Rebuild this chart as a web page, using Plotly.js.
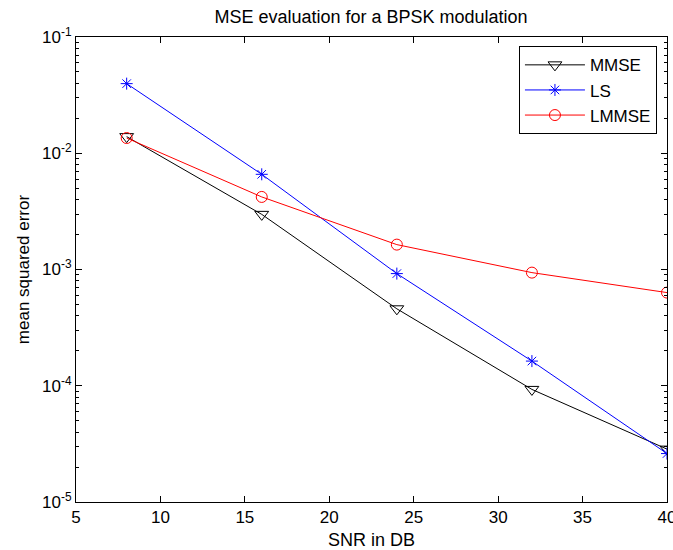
<!DOCTYPE html>
<html>
<head>
<meta charset="utf-8">
<script src="https://cdn.plot.ly/plotly-3.0.1.min.js"></script>
<style>html,body{margin:0;padding:0;background:#fff;}#chart{width:673px;height:550px;}</style>
</head>
<body>
<div id="chart"></div>
<script>
const snr = [8, 16, 24, 32, 40];
const mmse = [0.0139, 0.00298, 4.59e-4, 9.3e-5, 2.85e-5];
const ls = [0.0397, 0.00659, 9.22e-4, 1.63e-4, 2.61e-5];
const lmmse = [0.01352, 0.00421, 0.001637, 9.4e-4, 6.33e-4];
const xTicks = [5, 10, 15, 20, 25, 30, 35, 40];
const yTicks = [1e-5, 1e-4, 1e-3, 1e-2, 1e-1];
const yMinor = [];
[1e-5, 1e-4, 1e-3, 1e-2].forEach(d => { for (let k = 2; k <= 9; k++) yMinor.push(k * d); });

const font = "Liberation Sans, Arial, Helvetica, sans-serif";
const traces = [
  {x: snr, y: mmse, name: 'MMSE', mode: 'lines+markers', type: 'scatter',
   line: {color: '#000000', width: 1},
   marker: {symbol: 'triangle-down-open', size: 12, color: '#000000', line: {width: 1}}},
  {x: snr, y: ls, name: 'LS', mode: 'lines+markers', type: 'scatter',
   line: {color: '#0000ff', width: 1},
   marker: {symbol: 'asterisk-open', size: 10, color: '#0000ff', line: {width: 1, color: '#0000ff'}}},
  {x: snr, y: lmmse, name: 'LMMSE', mode: 'lines+markers', type: 'scatter',
   line: {color: '#ff0000', width: 1},
   marker: {symbol: 'circle-open', size: 11, color: '#ff0000', line: {width: 1}}}
];

const layout = {
  width: 673, height: 550,
  margin: {l: 76, r: 6, t: 37, b: 48},
  paper_bgcolor: '#ffffff', plot_bgcolor: '#ffffff',
  font: {family: font, size: 17, color: '#000000'},
  title: {text: 'MSE evaluation for a BPSK modulation', font: {family: font, size: 18, color: '#000'},
          x: 0.5513, xanchor: 'center', y: 0.969, yanchor: 'middle'},
  showlegend: true,
  legend: {x: 0.983, xanchor: 'right', y: 0.98, yanchor: 'top',
           bgcolor: '#ffffff', bordercolor: '#000000', borderwidth: 1,
           itemwidth: 60,
           font: {family: font, size: 17, color: '#000'}, tracegroupgap: 0},
  xaxis: {
    range: [5, 40.0001], tickmode: 'array', tickvals: xTicks, ticktext: xTicks.map(String),
    ticks: 'inside', ticklen: 6, tickcolor: '#000', showline: true, linecolor: '#000', linewidth: 1,
    mirror: 'ticks', showgrid: false, zeroline: false, ticklabeloverflow: 'allow',
    tickfont: {family: font, size: 17},
    title: {text: 'SNR in DB', font: {family: font, size: 18}, standoff: 8}
  },
  yaxis: {
    type: 'log', range: [-5, -1], tickmode: 'array', tickvals: yTicks,
    ticktext: ['10<sup>-5</sup>', '10<sup>-4</sup>', '10<sup>-3</sup>', '10<sup>-2</sup>', '10<sup>-1</sup>'],
    ticks: 'inside', ticklen: 6, tickcolor: '#000', showline: true, linecolor: '#000', linewidth: 1,
    mirror: 'ticks', showgrid: false, zeroline: false,
    tickfont: {family: font, size: 17},
    minor: {tickmode: 'array', tickvals: yMinor, ticks: 'inside', ticklen: 3, tickcolor: '#000', showgrid: false},
    title: {text: 'mean squared error', font: {family: font, size: 17}, standoff: 8}
  }
};
Plotly.newPlot('chart', traces, layout, {displayModeBar: false, staticPlot: true});
</script>
</body>
</html>
